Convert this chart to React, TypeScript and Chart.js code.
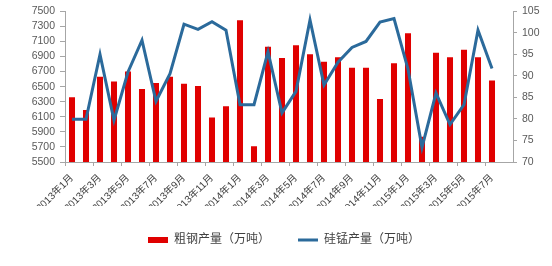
import React, { useEffect, useRef } from 'react';
import { Chart, registerables } from 'chart.js';

Chart.register(...registerables);

const months: string[] = [
  '2013年1月', '2013年2月', '2013年3月', '2013年4月', '2013年5月', '2013年6月',
  '2013年7月', '2013年8月', '2013年9月', '2013年10月', '2013年11月', '2013年12月',
  '2014年1月', '2014年2月', '2014年3月', '2014年4月', '2014年5月', '2014年6月',
  '2014年7月', '2014年8月', '2014年9月', '2014年10月', '2014年11月', '2014年12月',
  '2015年1月', '2015年2月', '2015年3月', '2015年4月', '2015年5月', '2015年6月',
  '2015年7月', '2015年8月',
];

const steelOutput: number[] = [
  6360, 6190, 6630, 6570, 6700, 6470, 6550, 6630, 6540, 6510, 6090, 6240,
  7380, 5710, 7030, 6880, 7050, 6930, 6830, 6890, 6750, 6750, 6335, 6810,
  7210, 5835, 6950, 6890, 6990, 6890, 6580,
];

const siMnOutput: number[] = [
  79.9, 79.9, 95.0, 79.7, 90.9, 98.3, 84.1, 90.5, 102.0, 100.8, 102.6, 100.6,
  83.3, 83.3, 95.6, 81.4, 86.4, 103.0, 87.9, 93.2, 96.6, 98.0, 102.5, 103.3,
  91.6, 73.4, 86.0, 78.7, 83.3, 100.6, 91.7,
];

const seriesNames: string[] = ['粗钢产量（万吨）', '硅锰产量（万吨）'];

const RED = '#e00000';
const BLUE = '#2b6a9b';
const AXIS = '#a6a6a6';
const TEXT = '#595959';
const FONT = "'Liberation Sans', 'Noto Sans CJK SC', sans-serif";

export default function App() {
  const ref = useRef<HTMLCanvasElement | null>(null);

  useEffect(() => {
    document.body.style.margin = '0';
    const canvas = ref.current;
    if (!canvas) return;
    const chart = new Chart(canvas, {
      type: 'bar',
      data: {
        labels: months,
        datasets: [
          {
            type: 'bar',
            label: seriesNames[0],
            data: steelOutput,
            backgroundColor: RED,
            borderWidth: 0,
            yAxisID: 'y',
            order: 2,
            categoryPercentage: 1,
            barPercentage: 0.43,
          },
          {
            type: 'line',
            label: seriesNames[1],
            data: siMnOutput,
            borderColor: BLUE,
            backgroundColor: BLUE,
            borderWidth: 3,
            pointRadius: 0,
            tension: 0,
            yAxisID: 'y1',
            order: 1,
          },
        ] as any,
      },
      options: {
        animation: false,
        responsive: true,
        maintainAspectRatio: false,
        layout: { padding: { left: 16, top: 8, right: 0, bottom: 10 } },
        plugins: {
          tooltip: { enabled: false },
          legend: {
            position: 'bottom',
            labels: {
              usePointStyle: true,
              pointStyleWidth: 20,
              boxHeight: 6,
              padding: 28,
              color: '#404040',
              font: { family: FONT, size: 12 },
              generateLabels: (c: any) =>
                c.data.datasets.map((ds: any, i: number) => ({
                  text: ds.label,
                  fillStyle: i === 0 ? RED : BLUE,
                  strokeStyle: i === 0 ? RED : BLUE,
                  lineWidth: i === 0 ? 0 : 3,
                  pointStyle: i === 0 ? 'rect' : 'line',
                  hidden: false,
                  datasetIndex: i,
                  fontColor: '#404040',
                })),
            },
          },
        },
        scales: {
          x: {
            offset: true,
            grid: {
              offset: true,
              drawOnChartArea: false,
              drawTicks: true,
              tickLength: 4,
              tickColor: (ctx: any) => (ctx.index % 2 === 0 ? AXIS : 'rgba(0,0,0,0)'),
            },
            border: { display: true, color: AXIS },
            ticks: {
              autoSkip: false,
              maxRotation: 45,
              minRotation: 45,
              padding: 6,
              color: '#404040',
              font: { family: FONT, size: 10 },
              callback: (_v: any, i: number) => (i % 2 === 0 ? months[i] : ''),
            },
            afterFit: (s: any) => {
              s.height = 44;
            },
          },
          y: {
            position: 'left',
            min: 5500,
            max: 7500,
            grid: { drawOnChartArea: false, drawTicks: true, tickLength: 5, color: AXIS },
            border: { display: true, color: AXIS },
            ticks: {
              stepSize: 200,
              autoSkip: false,
              padding: 5,
              color: TEXT,
              font: { family: FONT, size: 10.5 },
              callback: (v: any) => String(v),
            },
            afterFit: (s: any) => {
              s.width = 49;
            },
          },
          y1: {
            position: 'right',
            min: 70,
            max: 105,
            grid: { drawOnChartArea: false, drawTicks: true, tickLength: 4, color: AXIS },
            border: { display: true, color: AXIS },
            ticks: {
              stepSize: 5,
              autoSkip: false,
              padding: 5,
              color: TEXT,
              font: { family: FONT, size: 10.5 },
              callback: (v: any) => String(v),
            },
            afterFit: (s: any) => {
              s.width = 39;
            },
          },
        },
      },
    });
    return () => chart.destroy();
  }, []);

  return (
    <div style={{ position: 'absolute', left: 0, top: 0, width: 552, height: 266, background: '#fff' }}>
      <canvas ref={ref} />
    </div>
  );
}
